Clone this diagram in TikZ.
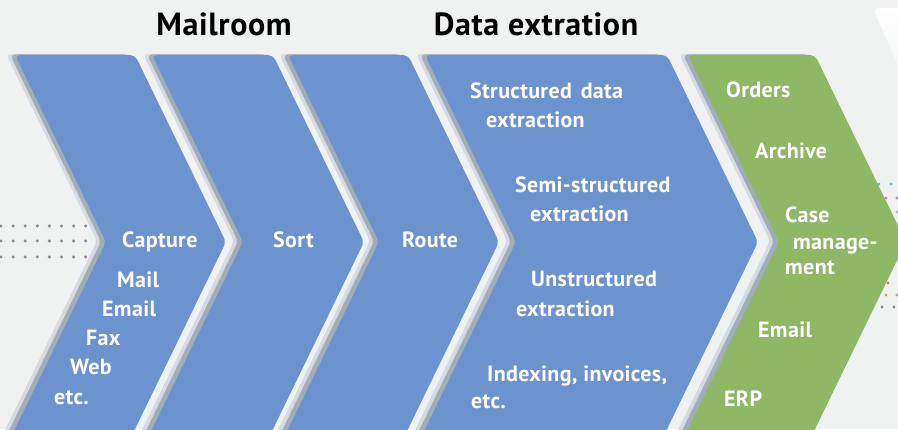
\documentclass[tikz,border=0pt]{standalone}
\usepackage{fontspec}
\setmainfont{PT Sans}
\definecolor{bg}{HTML}{F0F2F2}
\definecolor{chblue}{HTML}{6D93CE}
\definecolor{chgreen}{HTML}{8EB866}
\definecolor{shdark}{HTML}{A2ADBA}
\definecolor{shlight}{HTML}{D3DAE2}
\definecolor{dotgray}{HTML}{85898D}
\definecolor{dblue}{HTML}{6FB7E8}
\definecolor{dpink}{HTML}{D77FB7}
\definecolor{dlblue}{HTML}{8CC8D8}
\definecolor{dred}{HTML}{E07B5A}
\definecolor{dorange}{HTML}{D09A5A}
\definecolor{dgreen}{HTML}{7D8F74}
\newcommand\chevshape[2]{(#1,374) -- (#2,374) -- ({#2+91},187) -- ({#2-4.8},-10) -- ({#1-4.8},-10) -- ({#1+91},187) -- cycle}
\begin{document}
\begin{tikzpicture}[x=1pt,y=1pt,
  chev/.style={rounded corners=5pt},
  wt/.style={text=white, font=\bfseries\fontsize{22}{25}\selectfont\addfontfeatures{LetterSpace=1.5}, inner sep=0pt, anchor=base west},
  head/.style={text=black, font=\bfseries\fontsize{32}{36}\selectfont\addfontfeatures{LetterSpace=2}, inner sep=0pt, anchor=base},
  dot/.style={radius=1.7}]
\useasboundingbox (0,0) rectangle (898,429);
\clip (0,0) rectangle (898,429);
\fill[bg] (0,0) rectangle (898,429);
% top-right faint shape
\shade[top color=white, bottom color=bg, rounded corners=5pt] (873,421) -- (910,421) -- (910,340) -- (908,340) -- cycle;
% left dots
\foreach \i in {0,...,8} \foreach \y in {172,188,203} \fill[dotgray] ({1+12.1*\i},\y) circle[dot];
% right dots
\fill[dblue] (879,245) circle[dot] (891,245) circle[dot];
\fill[dpink] (886,231) circle[dot] (897,231) circle[dot];
\fill[dlblue] (897,217) circle[dot];
\fill[dred] (888,146) circle[dot];
\fill[dorange] (886,134) circle[dot] (897,134) circle[dot];
\fill[dgreen] (882,122) circle[dot] (894,122) circle[dot];
% shadows
\foreach \a/\b in {15/135,152/273,288/408,425/667,688/815} {
  \fill[shlight, chev, xshift=-9pt, yshift=1pt] \chevshape{\a}{\b};
  \fill[shdark, chev, xshift=-5pt, yshift=0.5pt] \chevshape{\a}{\b};
}
% chevrons
\foreach \a/\b in {15/135,152/273,288/408,425/667} {
  \fill[chblue, chev] \chevshape{\a}{\b};
}
\fill[chgreen, chev] \chevshape{688}{815};
% headings
\node[head] (mailroom) at (224,393) {Mailroom};
\node[head] (dataext) at (536,393) {Data extration};
% capture
\node[wt] (capture) at (122,181) {Capture};
\node[wt] (mail) at (117,141) {Mail};
\node[wt] (email1) at (102,112) {Email};
\node[wt] (fax) at (86,83) {Fax};
\node[wt] (web) at (70,54) {Web};
\node[wt] (etc1) at (54,25) {etc.};
\node[wt] (sort) at (273,181) {Sort};
\node[wt] (route) at (402,181) {Route};
% data extraction
\node[wt] (sda) at (470,330) {Structured\hspace{3pt} data};
\node[wt] (sdb) at (486,301) {extraction};
\node[wt] (ssa) at (515,236) {Semi-structured};
\node[wt] (ssb) at (530,207) {extraction};
\node[wt] (usa) at (531,142) {Unstructured};
\node[wt] (usb) at (516,112) {extraction};
\node[wt] (ixa) at (487,48) {Indexing, invoices,};
\node[wt] (ixb) at (471,20) {etc.};
% outputs
\node[wt] (orders) at (726,331) {Orders};
\node[wt] (archive) at (755,270) {Archive};
\node[wt] (casea) at (785,206) {Case};
\node[wt] (caseb) at (793,179) {manage-};
\node[wt] (casec) at (785,154) {ment};
\node[wt] (email2) at (758,91) {Email};
\node[wt] (erp) at (724,23) {ERP};
\end{tikzpicture}
\end{document}
